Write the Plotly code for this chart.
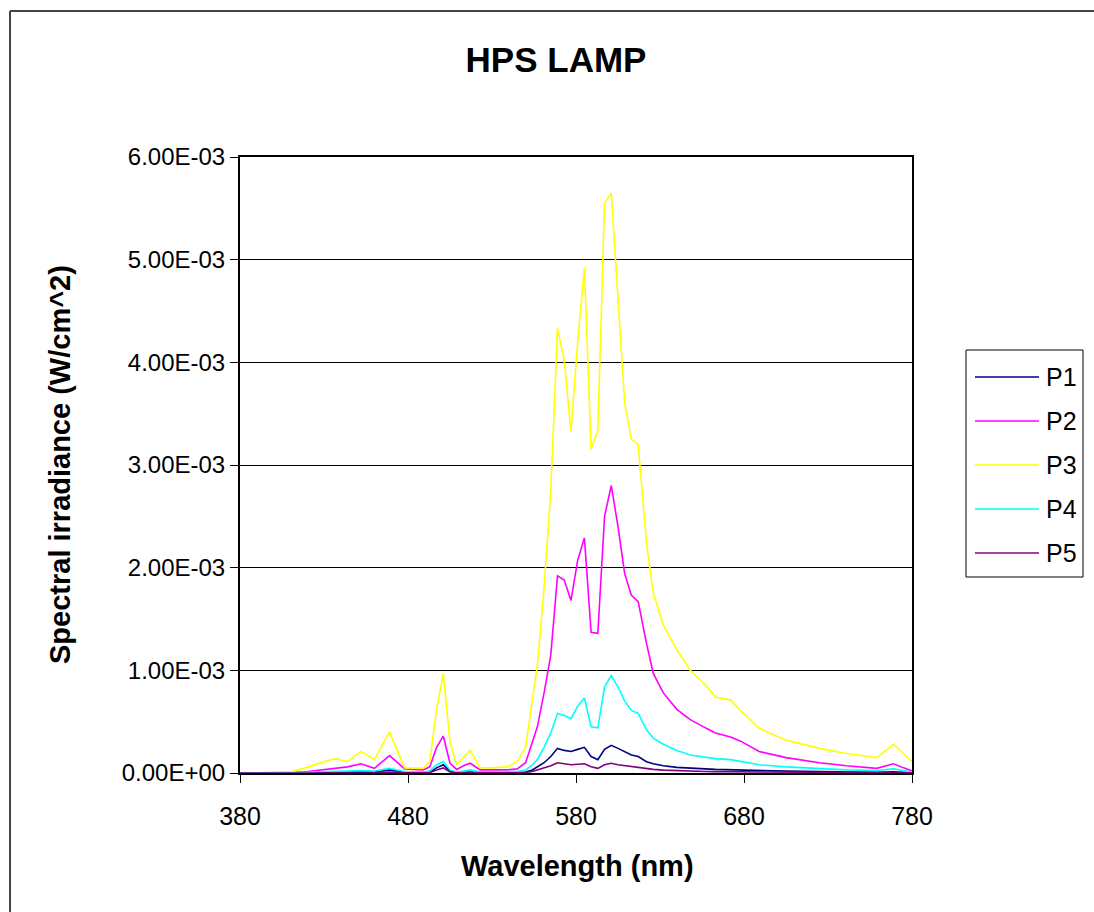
import plotly.graph_objects as go

wavelength = [380, 390, 400, 408, 418, 430, 437, 444, 452, 460, 469, 478, 489, 493, 497, 501, 505, 509, 513, 517,
              523, 530, 539, 545, 550, 554, 557, 561, 565, 569, 573, 577, 581, 585, 589, 593, 597, 601, 605, 609,
              613, 617, 622, 626, 632, 640, 648, 657, 663, 672, 678, 689, 705, 725, 741, 759, 769, 775, 780]

p1 = [0, 0, 0, 0, 0.002, 0.005, 0.006, 0.007, 0.01, 0.007, 0.03, 0.005, 0.004, 0.008, 0.05, 0.08, 0.02, 0.005, 0.008, 0.01,
      0.004, 0.004, 0.005, 0.006, 0.01, 0.03, 0.06, 0.10, 0.16, 0.24, 0.22, 0.21, 0.23, 0.25, 0.16, 0.13, 0.23, 0.27, 0.24, 0.21,
      0.175, 0.16, 0.11, 0.09, 0.07, 0.055, 0.045, 0.04, 0.035, 0.03, 0.028, 0.022, 0.018, 0.014, 0.01, 0.008, 0.012, 0.008, 0.003]

p2 = [0, 0, 0, 0, 0.01, 0.03, 0.045, 0.06, 0.09, 0.045, 0.17, 0.04, 0.03, 0.06, 0.25, 0.36, 0.095, 0.035, 0.07, 0.095,
      0.03, 0.03, 0.03, 0.04, 0.10, 0.30, 0.45, 0.78, 1.15, 1.92, 1.88, 1.68, 2.07, 2.29, 1.37, 1.36, 2.50, 2.80, 2.40, 1.94,
      1.73, 1.67, 1.26, 0.97, 0.78, 0.62, 0.52, 0.44, 0.39, 0.35, 0.31, 0.21, 0.15, 0.10, 0.07, 0.045, 0.09, 0.05, 0.02]

p3 = [0, 0, 0, 0, 0.045, 0.11, 0.14, 0.11, 0.21, 0.13, 0.40, 0.05, 0.045, 0.11, 0.62, 0.97, 0.30, 0.08, 0.15, 0.22,
      0.05, 0.05, 0.06, 0.11, 0.25, 0.70, 1.05, 1.80, 2.75, 4.33, 4.02, 3.32, 4.20, 4.92, 3.15, 3.34, 5.55, 5.65, 4.60, 3.60,
      3.25, 3.20, 2.24, 1.75, 1.44, 1.20, 1.00, 0.86, 0.74, 0.71, 0.61, 0.435, 0.32, 0.24, 0.19, 0.15, 0.28, 0.19, 0.11]

p4 = [0, 0, 0, 0, 0.005, 0.015, 0.015, 0.02, 0.025, 0.02, 0.045, 0.015, 0.01, 0.02, 0.08, 0.11, 0.03, 0.01, 0.02, 0.03,
      0.01, 0.01, 0.01, 0.015, 0.03, 0.08, 0.13, 0.25, 0.39, 0.58, 0.56, 0.53, 0.65, 0.73, 0.45, 0.44, 0.84, 0.95, 0.84, 0.70,
      0.61, 0.58, 0.42, 0.34, 0.28, 0.22, 0.175, 0.15, 0.14, 0.13, 0.11, 0.08, 0.06, 0.04, 0.03, 0.025, 0.04, 0.025, 0.01]

p5 = [0, 0, 0, 0, 0, 0.002, 0.002, 0.003, 0.004, 0.003, 0.01, 0.002, 0.002, 0.004, 0.03, 0.05, 0.01, 0.002, 0.003, 0.004,
      0.002, 0.002, 0.002, 0.003, 0.005, 0.015, 0.03, 0.05, 0.07, 0.10, 0.09, 0.08, 0.085, 0.09, 0.06, 0.045, 0.08, 0.095, 0.08, 0.07,
      0.06, 0.055, 0.045, 0.035, 0.028, 0.022, 0.018, 0.015, 0.013, 0.012, 0.011, 0.01, 0.009, 0.008, 0.007, 0.006, 0.008, 0.005, 0.002]

series_names = ["P1", "P2", "P3", "P4", "P5"]
series_colors = ["#000080", "#FF00FF", "#FFFF00", "#00FFFF", "#800080"]
series_values = [p1, p2, p3, p4, p5]

y_tick_vals = [0, 1e-3, 2e-3, 3e-3, 4e-3, 5e-3, 6e-3]
y_tick_text = ["0.00E+00", "1.00E-03", "2.00E-03", "3.00E-03", "4.00E-03", "5.00E-03", "6.00E-03"]
x_tick_vals = [380, 480, 580, 680, 780]

FONT = "Liberation Sans, Arial, sans-serif"

fig = go.Figure()
for name, color, vals in zip(series_names, series_colors, series_values):
    fig.add_trace(go.Scatter(
        x=wavelength, y=[v * 1e-3 for v in vals], mode="lines", name=name,
        line=dict(color=color, width=1.6), showlegend=False,
    ))

W, H = 1094, 912
L, R, T, B = 240, 912, 157, 773
pw, ph = R - L, B - T

def px(xp):
    return (xp - L) / pw

def py(yp):
    return (B - yp) / ph

shapes = []
annotations = []

# outer chart border (top and left)
shapes.append(dict(type="line", xref="paper", yref="paper", x0=px(10), x1=px(1094), y0=py(11), y1=py(11),
                   line=dict(color="#444444", width=2)))
shapes.append(dict(type="line", xref="paper", yref="paper", x0=px(10), x1=px(10), y0=py(11), y1=py(912),
                   line=dict(color="#444444", width=2)))

# legend box
lx0, lx1, ly0, ly1 = 966, 1083, 350, 577
shapes.append(dict(type="rect", xref="paper", yref="paper", x0=px(lx0), x1=px(lx1), y0=py(ly0), y1=py(ly1),
                   line=dict(color="black", width=1), fillcolor="white"))
for i, (name, color) in enumerate(zip(series_names, series_colors)):
    yy = 377 + i * 44
    shapes.append(dict(type="line", xref="paper", yref="paper", x0=px(975), x1=px(1039), y0=py(yy), y1=py(yy),
                       line=dict(color=color, width=1.6)))
    annotations.append(dict(xref="paper", yref="paper", x=px(1044), y=py(yy), text=name, showarrow=False,
                            xanchor="left", yanchor="middle", font=dict(family=FONT, size=25, color="black")))

# axis titles
annotations.append(dict(xref="paper", yref="paper", x=px(577), y=py(866), text="<b>Wavelength (nm)</b>",
                        showarrow=False, xanchor="center", yanchor="middle",
                        font=dict(family=FONT, size=29, color="black")))
annotations.append(dict(xref="paper", yref="paper", x=px(60), y=py(465), text="<b>Spectral irradiance (W/cm^2)</b>",
                        showarrow=False, xanchor="center", yanchor="middle", textangle=-90,
                        font=dict(family=FONT, size=29, color="black")))

fig.update_layout(
    width=W, height=H,
    margin=dict(l=L, r=W - R, t=T, b=H - B, pad=0),
    paper_bgcolor="white", plot_bgcolor="white",
    title=dict(text="<b>HPS LAMP</b>", x=556 / W, xanchor="center", y=1 - 60 / H, yanchor="middle",
               font=dict(family=FONT, size=35, color="black")),
    xaxis=dict(range=[380, 780], tickvals=x_tick_vals, ticktext=[str(v) for v in x_tick_vals],
               ticks="outside", ticklen=8, tickwidth=1, tickcolor="black", ticklabelstandoff=12,
               showgrid=False, zeroline=False, showline=True, linecolor="black", linewidth=2, mirror=True,
               tickfont=dict(family=FONT, size=25, color="black")),
    yaxis=dict(range=[0, 6e-3], tickvals=y_tick_vals, ticktext=y_tick_text,
               ticks="outside", ticklen=8, tickwidth=1, tickcolor="black",
               showgrid=True, gridcolor="black", gridwidth=1, zeroline=False,
               showline=True, linecolor="black", linewidth=2, mirror=True,
               tickfont=dict(family=FONT, size=24, color="black")),
    shapes=shapes, annotations=annotations,
)

fig.write_html("out.html")
